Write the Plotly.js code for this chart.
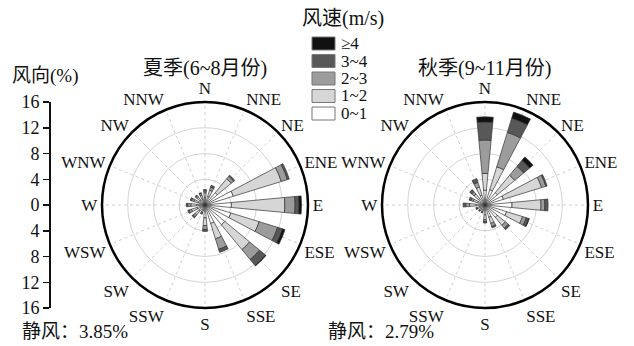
<!DOCTYPE html>
<html>
<head>
<meta charset="utf-8">
<script src="https://cdn.plot.ly/plotly-3.0.1.min.js"></script>
<style>html,body{margin:0;padding:0;background:#fff}#chart{width:634px;height:346px}</style>
</head>
<body>
<div id="chart"></div>
<script>
// ---- data ----
var directions = ["N","NNE","NE","ENE","E","ESE","SE","SSE","S","SSW","SW","WSW","W","WNW","NW","NNW"];
var speedBins = ["0~1","1~2","2~3","3~4","≥4"];
var binColors = ["#ffffff","#d6d6d6","#9c9c9c","#585858","#111111"];

// summer (6~8), frequency % per speed bin
var summer_0_1 = [1.2,1.4,2.5,4.6,4.1,4.2,4.0,3.0,2.0,0.8,1.2,1.3,1.3,1.1,1.0,1.0];
var summer_1_2 = [0.7,1.0,2.8,7.8,8.3,4.6,5.0,2.5,1.2,0.4,0.8,0.9,0.9,0.7,0.6,0.6];
var summer_2_3 = [0.3,0.5,0.5,1.0,1.6,3.0,2.0,1.7,0.6,0.2,0.4,0.4,0.5,0.4,0.3,0.3];
var summer_3_4 = [0.2,0.3,0.2,0.3,0.6,0.8,1.2,0.5,0.3,0.1,0.2,0.2,0.2,0.2,0.1,0.1];
var summer_4p  = [0.0,0.0,0.0,0.0,0.4,0.4,0.1,0.0,0.0,0.0,0.0,0.0,0.0,0.0,0.0,0.0];

// autumn (9~11)
var autumn_0_1 = [2.3,2.5,2.5,3.0,4.2,3.5,2.5,2.0,1.5,0.8,0.8,0.9,1.4,1.2,1.3,1.6];
var autumn_1_2 = [2.6,3.7,3.5,6.2,4.5,2.6,1.6,1.0,0.8,0.3,0.3,0.4,1.0,0.7,0.9,1.3];
var autumn_2_3 = [5.2,5.6,1.8,0.7,0.6,0.6,0.6,0.5,0.3,0.1,0.1,0.1,0.6,0.4,0.5,0.8];
var autumn_3_4 = [2.8,2.3,1.2,0.2,0.5,0.4,0.3,0.2,0.2,0.1,0.1,0.1,0.4,0.3,0.4,0.6];
var autumn_4p  = [0.8,1.0,0.7,0.0,0.0,0.1,0.0,0.0,0.0,0.0,0.0,0.0,0.0,0.0,0.0,0.0];

var radialTicks = [-16,-12,-8,-4,0,4,8,12,16];
var radialTickText = ["16","12","8","4","0","4","8","12","16"];

var summerTitle = "夏季(6~8月份)";
var autumnTitle = "秋季(9~11月份)";
var summerCalm = "静风：3.85%";
var autumnCalm = "静风：2.79%";
var yTitle = "风向(%)";
var legendTitle = "风速(m/s)";

// ---- build ----
var FONT = '"Liberation Serif", "Noto Sans CJK SC", serif';
var summerSets = [summer_0_1, summer_1_2, summer_2_3, summer_3_4, summer_4p];
var autumnSets = [autumn_0_1, autumn_1_2, autumn_2_3, autumn_3_4, autumn_4p];

var traces = [];
function addSeason(sets, subplot) {
  sets.forEach(function(vals, k) {
    traces.push({
      type: "barpolar", subplot: subplot, r: vals, theta: directions, width: 0.48,
      name: speedBins[k], showlegend: false,
      marker: {color: binColors[k], line: {color: "#333333", width: 0.7}}, hoverinfo: "skip"
    });
  });
}
addSeason(summerSets, "polar");
addSeason(autumnSets, "polar2");
// left percentage scale axis
traces.push({type: "scatter", x: [], y: [], xaxis: "x", yaxis: "y", showlegend: false, hoverinfo: "skip"});

var W = 634, H = 346, R = 103;
function dom(cx, cy) {
  return {x: [(cx - R) / W, (cx + R) / W], y: [(H - cy - R) / H, (H - cy + R) / H]};
}
function polarCfg(cx) {
  return {
    domain: dom(cx, 205), bgcolor: "#ffffff", barmode: "stack",
    radialaxis: {range: [0, 16], tickvals: [4, 8, 12, 16], showticklabels: false, ticks: "",
      showline: false, gridcolor: "#d4d4d4", gridwidth: 1},
    angularaxis: {type: "category", categoryarray: directions, rotation: 90, direction: "clockwise",
      showline: true, linecolor: "#000", linewidth: 2.5, ticks: "", gridcolor: "#d0d0d0",
      griddash: "dot", gridwidth: 1, tickfont: {family: FONT, size: 17, color: "#111"}}
  };
}
var shapes = [], annotations = [];
// legend drawn as boxes and labels
[4, 3, 2, 1, 0].forEach(function(k, i) {
  var yc = 43.5 + i * 17.5;
  shapes.push({type: "rect", xref: "paper", yref: "paper",
    x0: 312 / W, x1: 335 / W, y0: (H - yc - 6.5) / H, y1: (H - yc + 6.5) / H,
    fillcolor: binColors[k], line: {color: "#777", width: 1}});
  annotations.push({xref: "paper", yref: "paper", x: 339 / W, y: (H - yc) / H,
    xanchor: "left", yanchor: "middle", text: speedBins[k], showarrow: false,
    font: {family: FONT, size: 17, color: "#111"}});
});
function ann(text, x, y, anchor, size) {
  annotations.push({xref: "paper", yref: "paper", x: x / W, y: (H - y) / H,
    xanchor: anchor, yanchor: "middle", text: text, showarrow: false,
    font: {family: FONT, size: size, color: "#111"}});
}
ann(legendTitle, 343, 18, "center", 20);
ann(summerTitle, 205, 68, "center", 20);
ann(autumnTitle, 484, 68, "center", 20);
ann(yTitle, 10, 76, "left", 19);
ann(summerCalm, 20, 331, "left", 19);
ann(autumnCalm, 326, 331, "left", 19);

var layout = {
  width: W, height: H, margin: {l: 0, r: 0, t: 0, b: 0}, paper_bgcolor: "#ffffff", showlegend: false,
  font: {family: FONT},
  polar: polarCfg(205), polar2: polarCfg(485),
  xaxis: {domain: [0.08, 0.1], visible: false, range: [0, 1]},
  yaxis: {domain: [(H - 205 - R) / H, (H - 205 + R) / H], range: [-16, 16],
    anchor: "free", position: 50 / W, side: "left",
    tickmode: "array", tickvals: radialTicks, ticktext: radialTickText,
    ticks: "outside", ticklen: 6, tickwidth: 1.5, tickcolor: "#111",
    showline: true, linecolor: "#111", linewidth: 2, showgrid: false, zeroline: false,
    tickfont: {family: FONT, size: 18, color: "#111"}},
  shapes: shapes, annotations: annotations
};
Plotly.newPlot("chart", traces, layout, {displayModeBar: false, staticPlot: true});
</script>
</body>
</html>
